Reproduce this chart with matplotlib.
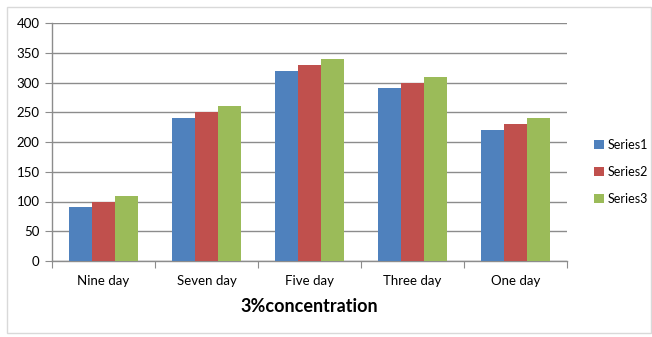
import matplotlib
matplotlib.use("Agg")
import matplotlib.pyplot as plt
from matplotlib.patches import Rectangle
import numpy as np

categories = ["Nine day", "Seven day", "Five day", "Three day", "One day"]
series1 = [90, 240, 320, 290, 220]
series2 = [100, 250, 330, 300, 230]
series3 = [110, 260, 340, 310, 240]
series_names = ["Series1", "Series2", "Series3"]
colors = ["#4F81BD", "#C0504D", "#9BBB59"]
yticks = [0, 50, 100, 150, 200, 250, 300, 350, 400]

W, H = 652, 337
fig = plt.figure(figsize=(W/100, H/100), dpi=100)
fig.patches.append(Rectangle((7/W, 4/H), 644/W, 326/H, transform=fig.transFigure,
                             fill=False, edgecolor="#D9D9D9", linewidth=1.0))
ax = fig.add_axes([52/W, 1-261/H, (567-52)/W, (261-23)/H])

font = "Lato"
x = np.arange(len(categories))
bw = 1/4.5
for i, (vals, name, c) in enumerate(zip([series1, series2, series3], series_names, colors)):
    ax.bar(x + (i-1)*bw, vals, width=bw, color=c, label=name, zorder=3)

ax.set_xlim(-0.5, len(categories)-0.5)
ax.set_ylim(0, 400)
ax.set_yticks(yticks)
ax.set_yticklabels([str(v) for v in yticks], fontfamily=font, fontsize=9.5)
ax.yaxis.grid(True, color="#8C8C8C", linewidth=1.0, zorder=0)
ax.set_axisbelow(True)
ax.set_xticks(np.arange(-0.5, len(categories), 1.0))
ax.set_xticklabels([])
ax.set_xticks(x, minor=True)
ax.set_xticklabels(categories, minor=True, fontfamily=font, fontsize=9.5)
ax.tick_params(axis="x", which="minor", length=0, pad=10)
ax.tick_params(axis="x", which="major", length=5, color="#8C8C8C", direction="out")
ax.tick_params(axis="y", length=5, color="#8C8C8C", pad=4)
for s in ["top", "right"]:
    ax.spines[s].set_visible(False)
for s in ["left", "bottom"]:
    ax.spines[s].set_color("#8C8C8C")
    ax.spines[s].set_linewidth(1.0)

ax.set_xlabel("3%concentration", fontfamily=font, fontsize=13, fontweight="bold", labelpad=8)

leg = fig.legend(loc="center left", bbox_to_anchor=(583/W, 1-172/H), frameon=False,
                 prop={"family": font, "size": 9}, handlelength=0.8, handleheight=0.8,
                 labelspacing=1.2, handletextpad=0.3)

fig.savefig("out.png", dpi=100)
